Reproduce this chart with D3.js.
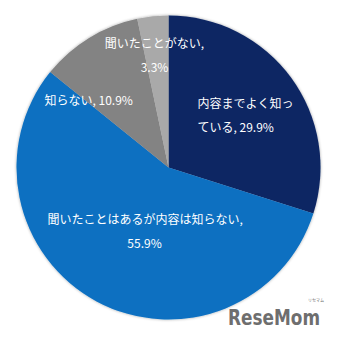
<!DOCTYPE html>
<html>
<head>
<meta charset="utf-8">
<script src="https://cdn.jsdelivr.net/npm/d3@7"></script>
<style>
  body { margin: 0; background: #fff; }
  svg { display: block; }
</style>
</head>
<body>
<div id="chart"></div>
<script>
var categories = ["内容までよく知っている", "聞いたことはあるが内容は知らない", "知らない", "聞いたことがない"];
var values = [29.9, 55.9, 10.9, 3.3];
var colors = ["#0B2563", "#0A6FC1", "#838383", "#A9A9A9"];
// label lines as shown in the picture (Excel wraps them)
var labelLines = [
  ["内容までよく知っ", "ている, 29.9%"],
  ["聞いたことはあるが内容は知らない,", "55.9%"],
  ["知らない, 10.9%"],
  ["聞いたことがない,", "3.3%"]
];

function main(){
  var canvasWidth = 338;
  var canvasHeight = 337;
  var cx = 168.5, cy = 167.5, radius = 152;

  var svg = d3.select("#chart").append("svg")
      .attr("width", canvasWidth)
      .attr("height", canvasHeight);

  var defs = svg.append("defs");
  var f = defs.append("filter").attr("id", "shadow")
      .attr("x", "-10%").attr("y", "-10%").attr("width", "120%").attr("height", "120%");
  f.append("feGaussianBlur").attr("in", "SourceAlpha").attr("stdDeviation", 1.5);
  f.append("feComponentTransfer").append("feFuncA").attr("type", "linear").attr("slope", 0.35);
  var m = f.append("feMerge");
  m.append("feMergeNode");
  m.append("feMergeNode").attr("in", "SourceGraphic");

  var data = categories.map(function(c, i){ return {name: c, value: values[i], color: colors[i], lines: labelLines[i]}; });

  var pie = d3.pie().sort(null).value(function(d){ return d.value; });
  var arc = d3.arc().innerRadius(0).outerRadius(radius);

  var g = svg.append("g")
      .attr("transform", "translate(" + cx + "," + cy + ")");

  g.append("g").attr("filter", "url(#shadow)")
    .selectAll("path")
    .data(pie(data))
    .enter().append("path")
      .attr("d", arc)
      .attr("fill", function(d){ return d.data.color; });

  // label anchor positions relative to center
  var labelPos = [
    {x: 29, y: -64, anchor: "start"},
    {x: -121, y: 52, anchor: "start", centerSecond: -24},
    {x: -124, y: -67, anchor: "start"},
    {x: -14, y: -124, anchor: "middle"}
  ];

  var labels = g.append("g")
      .attr("font-family", "'Noto Sans CJK JP', 'Noto Sans', sans-serif")
      .attr("font-size", "12px")
      .attr("fill", "#fff");

  data.forEach(function(d, i){
    var p = labelPos[i];
    d.lines.forEach(function(line, j){
      var t = labels.append("text")
          .attr("y", p.y + j * 24)
          .attr("dy", "0.35em")
          .text(line);
      if (i === 1 && j === 1) {
        t.attr("x", p.centerSecond).attr("text-anchor", "middle");
      } else {
        t.attr("x", p.x).attr("text-anchor", p.anchor);
      }
    });
  });

  // logo
  var logo = svg.append("g").attr("fill", "#6E6E6E");
  logo.append("text")
      .attr("x", 228).attr("y", 325)
      .attr("font-family", "'Liberation Sans Narrow', 'DejaVu Sans Condensed', sans-serif")
      .attr("font-weight", "bold")
      .attr("font-size", "22px")
      .attr("textLength", 92)
      .attr("lengthAdjust", "spacingAndGlyphs")
      .text("ReseMom");
  logo.append("text")
      .attr("x", 316).attr("y", 302)
      .attr("text-anchor", "middle")
      .attr("font-family", "'Noto Sans CJK JP', sans-serif")
      .attr("font-size", "4px")
      .text("リセマム");
}

main();
</script>
</body>
</html>
